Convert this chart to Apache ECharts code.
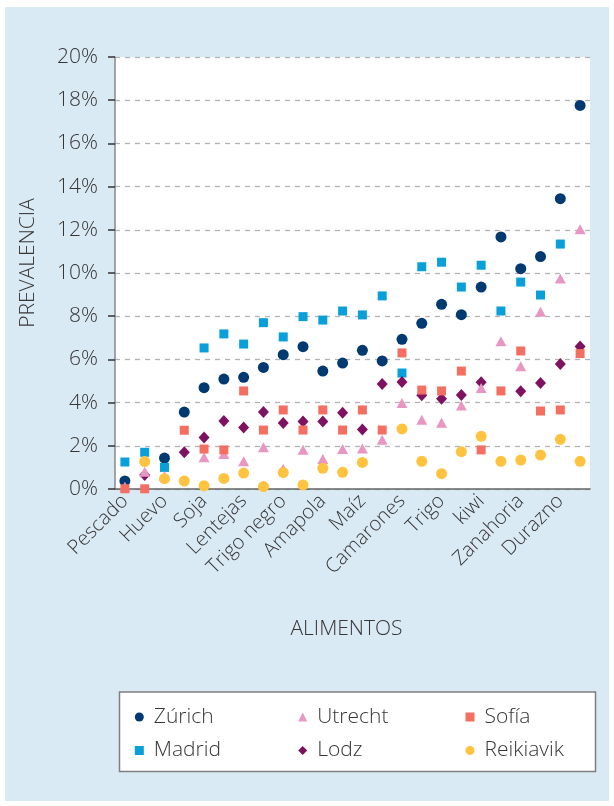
<!DOCTYPE html>
<html>
<head>
<meta charset="utf-8">
<script src="https://cdn.jsdelivr.net/npm/echarts@6/dist/echarts.min.js"></script>
<style>
html,body{margin:0;padding:0;background:#fff;}
#bg{position:absolute;left:5px;top:7px;width:604px;height:794px;background:#DAEAF5;}
#chart{position:absolute;left:0;top:0;width:614px;height:806px;}
</style>
</head>
<body>
<div id="bg"></div>
<div id="chart"></div>
<script>
const categories = ["Pescado","","Huevo","","Soja","","Lentejas","","Trigo negro","","Amapola","",
  "Maíz","","Camarones","","Trigo","","kiwi","","Zanahoria","","Durazno",""];
const yTicks = [0,2,4,6,8,10,12,14,16,18,20];
const zurich   = [0.37,null,1.43,3.56,4.69,5.09,5.17,5.63,6.22,6.59,5.46,5.83,6.42,5.93,6.93,7.67,8.55,8.07,9.35,11.67,10.2,10.76,13.44,17.76];
const madrid   = [1.25,1.70,1.0,null,6.53,7.18,6.71,7.70,7.04,7.98,7.82,8.24,8.06,8.94,5.37,10.29,10.5,9.35,10.36,8.24,9.58,8.98,11.34,null];
const utrecht  = [0.1,0.80,0.6,null,1.47,1.62,1.28,1.93,0.94,1.82,1.39,1.85,1.88,2.28,3.98,3.21,3.07,3.86,4.68,6.84,5.68,8.21,9.75,12.02];
const lodz     = [null,0.65,null,1.70,2.39,3.15,2.85,3.56,3.06,3.12,3.12,3.53,2.75,4.86,4.95,4.34,4.18,4.35,4.94,null,4.52,4.91,5.79,6.60];
const sofia    = [0.01,0.01,null,2.72,1.85,1.81,4.54,2.73,3.66,2.73,3.66,2.73,3.66,2.73,6.30,4.58,4.54,5.46,1.81,4.54,6.39,3.61,3.66,6.27];
const reikiavik= [null,1.27,0.48,0.37,0.15,0.49,0.74,0.11,0.76,0.19,0.96,0.77,1.23,null,2.78,1.28,0.71,1.73,2.44,1.28,1.34,1.57,2.30,1.28];

const FONT = '"Open Sans", sans-serif';
const TXT = '#363636';
const chart = echarts.init(document.getElementById('chart'), null, {renderer:'canvas'});

function legendCol(left, names){
  return {
    orient:'vertical', left:left, top:705, itemWidth:9, itemHeight:9, itemGap:9.5,
    data:names, selectedMode:false, padding:0,
    textStyle:{fontFamily:FONT, fontSize:21, fontWeight:300, color:TXT, lineHeight:24, padding:[0,0,0,5]}
  };
}

chart.setOption({
  backgroundColor:'transparent',
  animation:false,
  graphic:[{
    type:'rect', shape:{x:119.5,y:692,width:476,height:79.5},
    style:{fill:'#ffffff', stroke:'#7f7f7f', lineWidth:1.5}, z:0
  }],
  grid:{left:115, right:24, top:57, bottom:317, show:true, backgroundColor:'#ffffff', borderWidth:0},
  legend:[
    legendCol(134.8, ['Zúrich','Madrid']),
    legendCol(298.2, ['Utrecht','Lodz']),
    legendCol(465.5, ['Sofía','Reikiavik'])
  ],
  xAxis:{
    type:'category', data:categories, boundaryGap:true,
    name:'ALIMENTOS', nameLocation:'middle', nameGap:130,
    nameTextStyle:{fontFamily:FONT, fontSize:21, fontWeight:300, color:TXT, padding:[0,12,0,0]},
    axisLine:{lineStyle:{color:'#666666', width:1.5}},
    axisTick:{show:false},
    splitLine:{show:false},
    axisLabel:{interval:1, rotate:45, margin:9, fontFamily:FONT, fontSize:20, fontWeight:300, color:TXT}
  },
  yAxis:{
    type:'value', min:0, max:20, interval:2,
    name:'PREVALENCIA', nameLocation:'middle', nameRotate:90, nameGap:76,
    nameTextStyle:{fontFamily:FONT, fontSize:21, fontWeight:300, color:TXT, padding:[0,0,0,20]},
    axisLine:{show:true, lineStyle:{color:'#888888', width:1.5}},
    axisTick:{show:true, length:7, lineStyle:{color:'#333333', width:1.5}},
    splitLine:{show:true, lineStyle:{color:'#b3b3b3', width:1.3, type:[5,5]}},
    axisLabel:{margin:17, fontFamily:FONT, fontSize:21, fontWeight:300, color:TXT,
      formatter:function(v){ return yTicks.indexOf(v) >= 0 ? v + '%' : ''; }}
  },
  series:[
    {name:'Zúrich', type:'scatter', data:zurich, symbol:'circle', symbolSize:11, itemStyle:{color:'#003A70', opacity:1}, z:2},
    {name:'Madrid', type:'scatter', data:madrid, symbol:'rect', symbolSize:9, itemStyle:{color:'#099FD8', opacity:1}, z:2},
    {name:'Lodz', type:'scatter', data:lodz, symbol:'diamond', symbolSize:[11,12], itemStyle:{color:'#7E1260', opacity:1}, z:2},
    {name:'Utrecht', type:'scatter', data:utrecht, symbol:'triangle', symbolSize:[11,10], itemStyle:{color:'#E897C2', opacity:1}, z:2},
    {name:'Sofía', type:'scatter', data:sofia, symbol:'rect', symbolSize:9, itemStyle:{color:'#F46F61', opacity:1}, z:2},
    {name:'Reikiavik', type:'scatter', data:reikiavik, symbol:'circle', symbolSize:11, itemStyle:{color:'#FFC340', opacity:1}, z:2}
  ]
});
</script>
</body>
</html>
